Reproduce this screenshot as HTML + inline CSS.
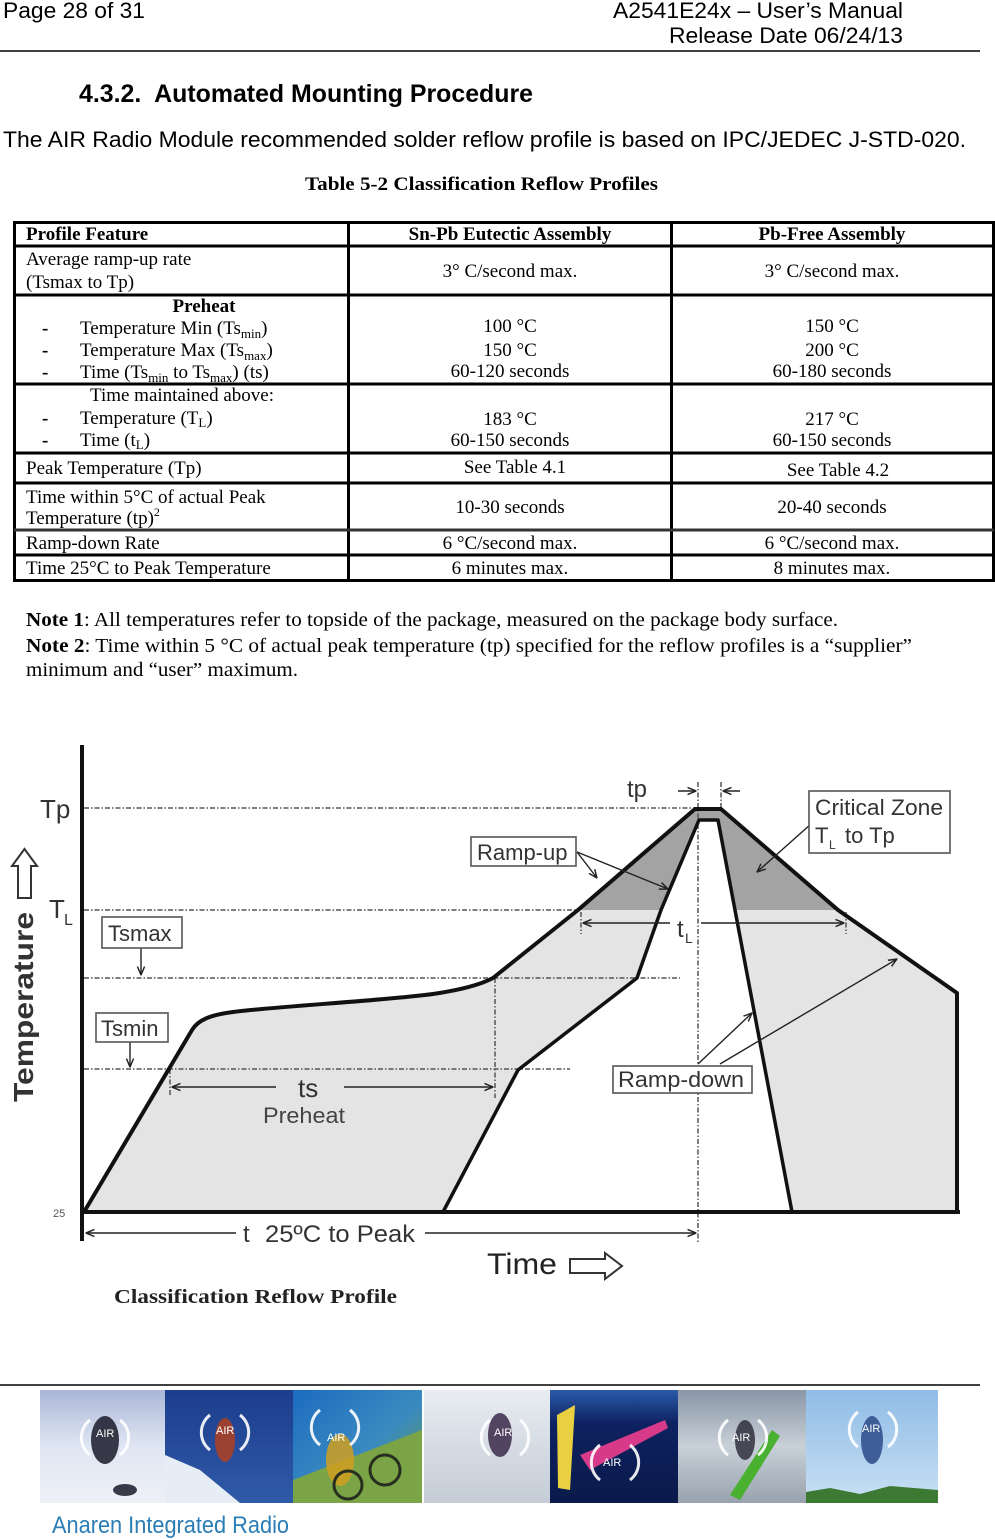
<!DOCTYPE html>
<html><head><meta charset="utf-8"><style>
html,body{margin:0;padding:0;background:#fff;}
svg{display:block;}
.sans{font-family:"Liberation Sans",Arial,sans-serif;}
.serif{font-family:"Liberation Serif","Times New Roman",serif;}
</style></head><body>
<svg width="995" height="1539" viewBox="0 0 995 1539" xmlns="http://www.w3.org/2000/svg">
<defs>
<marker id="ah" viewBox="0 0 10 10" refX="9.5" refY="5" markerWidth="9" markerHeight="9" orient="auto-start-reverse" markerUnits="userSpaceOnUse">
<path d="M0,1 L9.5,5 L0,9" fill="none" stroke="#222" stroke-width="1.6"/>
</marker>
<clipPath id="cz"><rect x="0" y="780" width="995" height="130"/></clipPath>
<linearGradient id="g1" x1="0" y1="0" x2="0" y2="1"><stop offset="0" stop-color="#aab6d6"/><stop offset="0.5" stop-color="#dfe6f3"/><stop offset="1" stop-color="#eef0f6"/></linearGradient>
<linearGradient id="g2" x1="0" y1="0" x2="0" y2="1"><stop offset="0" stop-color="#1c3d8c"/><stop offset="1" stop-color="#2f5aa8"/></linearGradient>
<linearGradient id="g3" x1="0" y1="0" x2="1" y2="1"><stop offset="0" stop-color="#1c6cc0"/><stop offset="0.55" stop-color="#3a8ac0"/><stop offset="1" stop-color="#6e9a3a"/></linearGradient>
<linearGradient id="g4" x1="0" y1="0" x2="0" y2="1"><stop offset="0" stop-color="#e8ecf2"/><stop offset="1" stop-color="#c4ccd6"/></linearGradient>
<linearGradient id="g5" x1="0" y1="0" x2="0" y2="1"><stop offset="0" stop-color="#2a5aa8"/><stop offset="0.3" stop-color="#0e2160"/><stop offset="1" stop-color="#0a1a4a"/></linearGradient>
<linearGradient id="g6" x1="0" y1="0" x2="0" y2="1"><stop offset="0" stop-color="#8a96a6"/><stop offset="0.5" stop-color="#c8d0d8"/><stop offset="1" stop-color="#98a2ae"/></linearGradient>
<linearGradient id="g7" x1="0" y1="0" x2="0" y2="1"><stop offset="0" stop-color="#8fbce6"/><stop offset="1" stop-color="#c9e0f4"/></linearGradient>
</defs>

<!-- Page header -->
<g class="sans" fill="#000" font-size="22">
<text x="3" y="18" textLength="142" lengthAdjust="spacingAndGlyphs">Page 28 of 31</text>
<text x="613" y="18" textLength="290" lengthAdjust="spacingAndGlyphs">A2541E24x – User’s Manual</text>
<text x="669" y="43" textLength="234" lengthAdjust="spacingAndGlyphs">Release Date 06/24/13</text>
</g>
<line x1="0" y1="51" x2="980" y2="51" stroke="#000" stroke-width="1.5"/>

<text class="sans" x="79" y="102" font-size="25" font-weight="bold" textLength="454" lengthAdjust="spacingAndGlyphs">4.3.2.&#160; Automated Mounting Procedure</text>
<text class="sans" x="3" y="147" font-size="22" textLength="963" lengthAdjust="spacingAndGlyphs">The AIR Radio Module recommended solder reflow profile is based on IPC/JEDEC J-STD-020.</text>
<text class="serif" x="305" y="190" font-size="19" font-weight="bold" textLength="353" lengthAdjust="spacingAndGlyphs">Table 5-2 Classification Reflow Profiles</text>

<!-- Table -->
<g stroke="#000" stroke-width="3" fill="none">
<rect x="14.5" y="222.5" width="979" height="358"/>
<line x1="348.5" y1="222" x2="348.5" y2="581"/>
<line x1="671.5" y1="222" x2="671.5" y2="581"/>
<line x1="14" y1="246" x2="994" y2="246"/>
<line x1="14" y1="295" x2="994" y2="295"/>
<line x1="14" y1="384" x2="994" y2="384"/>
<line x1="14" y1="453" x2="994" y2="453"/>
<line x1="14" y1="483" x2="994" y2="483"/>
<line x1="14" y1="530" x2="994" y2="530" stroke="#333"/>
<line x1="14" y1="555" x2="994" y2="555"/>
</g>
<g class="serif" font-size="19" fill="#000">
<g font-weight="bold">
<text x="26" y="240">Profile Feature</text>
<text x="510" y="240" text-anchor="middle">Sn-Pb Eutectic Assembly</text>
<text x="832" y="240" text-anchor="middle">Pb-Free Assembly</text>
<text x="204" y="312" text-anchor="middle">Preheat</text>
</g>
<text x="26" y="265">Average ramp-up rate</text>
<text x="26" y="288">(Tsmax to Tp)</text>
<text x="510" y="277" text-anchor="middle">3° C/second max.</text>
<text x="832" y="277" text-anchor="middle">3° C/second max.</text>

<text x="42" y="334" font-weight="bold">-</text>
<text x="42" y="356" font-weight="bold">-</text>
<text x="42" y="378" font-weight="bold">-</text>
<text x="80" y="334">Temperature Min (Ts<tspan font-size="13" dy="4">min</tspan><tspan dy="-4">)</tspan></text>
<text x="80" y="356">Temperature Max (Ts<tspan font-size="13" dy="4">max</tspan><tspan dy="-4">)</tspan></text>
<text x="80" y="378">Time (Ts<tspan font-size="13" dy="4">min</tspan><tspan dy="-4"> to Ts</tspan><tspan font-size="13" dy="4">max</tspan><tspan dy="-4">) (ts)</tspan></text>
<text x="510" y="332" text-anchor="middle">100 °C</text>
<text x="510" y="356" text-anchor="middle">150 °C</text>
<text x="510" y="377" text-anchor="middle">60-120 seconds</text>
<text x="832" y="332" text-anchor="middle">150 °C</text>
<text x="832" y="356" text-anchor="middle">200 °C</text>
<text x="832" y="377" text-anchor="middle">60-180 seconds</text>

<text x="90" y="401">Time maintained above:</text>
<text x="42" y="424" font-weight="bold">-</text>
<text x="42" y="446" font-weight="bold">-</text>
<text x="80" y="424">Temperature (T<tspan font-size="13" dy="3">L</tspan><tspan dy="-3">)</tspan></text>
<text x="80" y="446">Time (t<tspan font-size="13" dy="3">L</tspan><tspan dy="-3">)</tspan></text>
<text x="510" y="425" text-anchor="middle">183 °C</text>
<text x="510" y="446" text-anchor="middle">60-150 seconds</text>
<text x="832" y="425" text-anchor="middle">217 °C</text>
<text x="832" y="446" text-anchor="middle">60-150 seconds</text>

<text x="26" y="474">Peak Temperature (Tp)</text>
<text x="515" y="473" text-anchor="middle">See Table 4.1</text>
<text x="838" y="476" text-anchor="middle">See Table 4.2</text>

<text x="26" y="503">Time within 5°C of actual Peak</text>
<text x="26" y="524">Temperature (tp)<tspan font-size="12" dy="-8">2</tspan></text>
<text x="510" y="513" text-anchor="middle">10-30 seconds</text>
<text x="832" y="513" text-anchor="middle">20-40 seconds</text>

<text x="26" y="549">Ramp-down Rate</text>
<text x="510" y="549" text-anchor="middle">6 °C/second max.</text>
<text x="832" y="549" text-anchor="middle">6 °C/second max.</text>

<text x="26" y="574">Time 25°C to Peak Temperature</text>
<text x="510" y="574" text-anchor="middle">6 minutes max.</text>
<text x="832" y="574" text-anchor="middle">8 minutes max.</text>
</g>

<!-- Notes -->
<g class="serif" font-size="20" fill="#000">
<text x="26" y="626" textLength="812" lengthAdjust="spacingAndGlyphs"><tspan font-weight="bold">Note 1</tspan>: All temperatures refer to topside of the package, measured on the package body surface.</text>
<text x="26" y="652" textLength="886" lengthAdjust="spacingAndGlyphs"><tspan font-weight="bold">Note 2</tspan>: Time within 5 °C of actual peak temperature  (tp) specified for the reflow profiles is a “supplier”</text>
<text x="26" y="676" textLength="272" lengthAdjust="spacingAndGlyphs">minimum and “user” maximum.</text>
</g>

<!-- Chart fills -->
<path d="M84,1212 L192,1030 C198,1020 210,1015 233,1012 C280,1006 380,1001 433,994 C460,990 480,985 493,978 L578,910 L695,809 L721,809 L838,910 L957,993 L957,1212 Z" fill="#e4e4e4"/>
<path clip-path="url(#cz)" d="M84,1212 L192,1030 C198,1020 210,1015 233,1012 C280,1006 380,1001 433,994 C460,990 480,985 493,978 L578,910 L695,809 L721,809 L838,910 L957,993 L957,1212 Z" fill="#a3a3a3"/>
<path d="M443,1212 L518,1070 L637,978 L661,910 L699,820 L718,820 L792,1212 Z" fill="#fff"/>

<!-- Dashed guides -->
<g stroke="#555" stroke-width="1.5" stroke-dasharray="5 2 1.5 2" fill="none">
<line x1="84" y1="808" x2="695" y2="808"/>
<line x1="84" y1="910" x2="578" y2="910"/>
<line x1="84" y1="978" x2="680" y2="978"/>
<line x1="84" y1="1069" x2="570" y2="1069"/>
<line x1="170" y1="1069" x2="170" y2="1095"/>
<line x1="495" y1="978" x2="495" y2="1098"/>
<line x1="698" y1="782" x2="698" y2="1244"/>
<line x1="721" y1="782" x2="721" y2="809"/>
<line x1="581" y1="912" x2="581" y2="934"/>
<line x1="846" y1="912" x2="846" y2="934"/>
</g>

<!-- Profile strokes -->
<g fill="none" stroke="#111" stroke-linejoin="round">
<path d="M84,1212 L192,1030 C198,1020 210,1015 233,1012 C280,1006 380,1001 433,994 C460,990 480,985 493,978 L578,910 L695,809 L721,809 L838,910 L957,993 L957,1212" stroke-width="4"/>
<path d="M443,1212 L518,1070 L637,978 L661,910 L699,820 L718,820 L792,1212" stroke-width="3.5"/>
<line x1="82" y1="745" x2="82" y2="1241" stroke-width="4"/>
<line x1="80" y1="1212" x2="960" y2="1212" stroke-width="4"/>
</g>

<!-- Arrows -->
<g stroke="#222" stroke-width="1.4" fill="none">
<line x1="172" y1="1087" x2="276" y2="1087" marker-start="url(#ah)"/>
<line x1="344" y1="1087" x2="493" y2="1087" marker-end="url(#ah)"/>
<line x1="583" y1="923" x2="670" y2="923" marker-start="url(#ah)"/>
<line x1="701" y1="923" x2="844" y2="923" marker-end="url(#ah)"/>
<line x1="86" y1="1233" x2="236" y2="1233" marker-start="url(#ah)"/>
<line x1="425" y1="1233" x2="696" y2="1233" marker-end="url(#ah)"/>
<line x1="678" y1="791" x2="696" y2="791" marker-end="url(#ah)"/>
<line x1="740" y1="791" x2="723" y2="791" marker-end="url(#ah)"/>
<line x1="141" y1="948" x2="141" y2="975" marker-end="url(#ah)"/>
<line x1="130" y1="1042" x2="130" y2="1067" marker-end="url(#ah)"/>
<line x1="577" y1="852" x2="597" y2="878" marker-end="url(#ah)"/>
<line x1="577" y1="852" x2="668" y2="889" marker-end="url(#ah)"/>
<line x1="811" y1="824" x2="757" y2="872" marker-end="url(#ah)"/>
<line x1="698" y1="1064" x2="752" y2="1013" marker-end="url(#ah)"/>
<line x1="720" y1="1064" x2="897" y2="959" marker-end="url(#ah)"/>
</g>

<!-- Label boxes -->
<g fill="#fff" stroke="#555" stroke-width="1.6">
<rect x="102" y="917" width="80" height="31"/>
<rect x="96" y="1013" width="72" height="29"/>
<rect x="471" y="837" width="105" height="29"/>
<rect x="809" y="791" width="141" height="62"/>
<rect x="613" y="1066" width="139" height="27"/>
</g>

<!-- Chart text -->
<g class="sans" fill="#333">
<text x="40" y="818" font-size="26">Tp</text>
<text x="49" y="918" font-size="26">T</text>
<text x="64" y="925" font-size="16">L</text>
<text x="108" y="941" font-size="22">Tsmax</text>
<text x="101" y="1036" font-size="22">Tsmin</text>
<text x="477" y="860" font-size="22">Ramp-up</text>
<text x="815" y="815" font-size="22" textLength="128" lengthAdjust="spacingAndGlyphs">Critical Zone</text>
<text x="815" y="843" font-size="22">T</text>
<text x="829" y="849" font-size="12">L</text>
<text x="845" y="843" font-size="22">to Tp</text>
<text x="618" y="1087" font-size="22" textLength="126" lengthAdjust="spacingAndGlyphs">Ramp-down</text>
<text x="627" y="797" font-size="24">tp</text>
<text x="677" y="937" font-size="24">t</text>
<text x="685" y="943" font-size="14">L</text>
<text x="298" y="1097" font-size="26">ts</text>
<text x="263" y="1123" font-size="22" fill="#444" textLength="82" lengthAdjust="spacingAndGlyphs">Preheat</text>
<text x="53" y="1217" font-size="11" fill="#555">25</text>
<text x="243" y="1242" font-size="24">t</text>
<text x="265" y="1242" font-size="24" textLength="150" lengthAdjust="spacingAndGlyphs">25ºC to Peak</text>
<text x="487" y="1274" font-size="30" fill="#222" textLength="70" lengthAdjust="spacingAndGlyphs">Time</text>
<text transform="translate(33,1102) rotate(-90)" font-size="28" font-weight="bold" fill="#333" textLength="190" lengthAdjust="spacingAndGlyphs">Temperature</text>
</g>
<!-- Outline arrows -->
<path d="M570,1259 L605,1259 L605,1253 L622,1266 L605,1279 L605,1273 L570,1273 Z" fill="#fff" stroke="#333" stroke-width="2" stroke-linejoin="miter"/>
<path d="M24.5,849 L37,866 L31,866 L31,898 L18,898 L18,866 L12,866 Z" fill="#fff" stroke="#333" stroke-width="2"/>

<text class="serif" x="114" y="1303" font-size="20" font-weight="bold" fill="#222" textLength="283" lengthAdjust="spacingAndGlyphs">Classification Reflow Profile</text>

<!-- Footer -->
<line x1="0" y1="1385" x2="980" y2="1385" stroke="#000" stroke-width="1.5"/>
<rect x="40" y="1390" width="125" height="113" fill="url(#g1)"/>
<rect x="165" y="1390" width="128" height="113" fill="url(#g2)"/>
<path d="M165,1455 L200,1470 L240,1503 L165,1503 Z" fill="#e6edf5"/>
<rect x="293" y="1390" width="129" height="113" fill="url(#g3)"/>
<path d="M293,1503 L293,1480 L422,1430 L422,1503 Z" fill="#7aa445"/>
<rect x="424" y="1390" width="126" height="113" fill="url(#g4)"/>
<rect x="550" y="1390" width="128" height="113" fill="url(#g5)"/>
<path d="M557,1415 L575,1405 L570,1490 L558,1488 Z" fill="#e8d040"/>
<path d="M580,1455 L665,1420 L668,1428 L590,1470 Z" fill="#d83a8a"/>
<rect x="678" y="1390" width="128" height="113" fill="url(#g6)"/>
<path d="M730,1495 L772,1430 L780,1436 L740,1500 Z" fill="#4ab030"/>
<rect x="806" y="1390" width="132" height="113" fill="url(#g7)"/>
<path d="M806,1503 L806,1492 L830,1488 L860,1494 L890,1486 L938,1490 L938,1503 Z" fill="#3c7a34"/>
<!-- silhouettes -->
<g fill="#1a1a2a" opacity="0.85">
<ellipse cx="105" cy="1440" rx="14" ry="24"/>
<ellipse cx="125" cy="1490" rx="12" ry="6"/>
<ellipse cx="225" cy="1440" rx="10" ry="22" fill="#b04020"/>
<ellipse cx="340" cy="1460" rx="14" ry="26" fill="#d0a020"/>
<circle cx="348" cy="1485" r="14" fill="none" stroke="#1a1a1a" stroke-width="3"/>
<circle cx="385" cy="1470" r="15" fill="none" stroke="#1a1a1a" stroke-width="3"/>
<ellipse cx="500" cy="1435" rx="12" ry="22" fill="#3a2a4a"/>
<ellipse cx="745" cy="1440" rx="10" ry="20" fill="#303040"/>
<ellipse cx="872" cy="1440" rx="11" ry="24" fill="#2a4a8a"/>
</g>
<g fill="none" stroke="#fff" stroke-width="3" opacity="0.9">
<path d="M90,1420 A22,22 0 0 0 90,1455"/><path d="M120,1420 A22,22 0 0 1 120,1455"/>
<path d="M210,1415 A22,22 0 0 0 210,1450"/><path d="M240,1415 A22,22 0 0 1 240,1450"/>
<path d="M320,1410 A22,22 0 0 0 320,1445"/><path d="M350,1410 A22,22 0 0 1 350,1445"/>
<path d="M490,1420 A22,22 0 0 0 490,1455"/><path d="M520,1420 A22,22 0 0 1 520,1455"/>
<path d="M600,1445 A22,22 0 0 0 600,1480"/><path d="M630,1445 A22,22 0 0 1 630,1480"/>
<path d="M728,1420 A22,22 0 0 0 728,1455"/><path d="M758,1420 A22,22 0 0 1 758,1455"/>
<path d="M858,1412 A22,22 0 0 0 858,1447"/><path d="M888,1412 A22,22 0 0 1 888,1447"/>
</g>
<g class="sans" font-size="11" fill="#fff">
<text x="96" y="1437">AIR</text><text x="216" y="1434">AIR</text><text x="327" y="1441">AIR</text>
<text x="494" y="1436">AIR</text><text x="603" y="1466">AIR</text><text x="732" y="1441">AIR</text><text x="862" y="1432">AIR</text>
</g>
<text class="sans" x="52" y="1533" font-size="24" fill="#2b7db5" textLength="237" lengthAdjust="spacingAndGlyphs">Anaren Integrated Radio</text>
</svg>
</body></html>
